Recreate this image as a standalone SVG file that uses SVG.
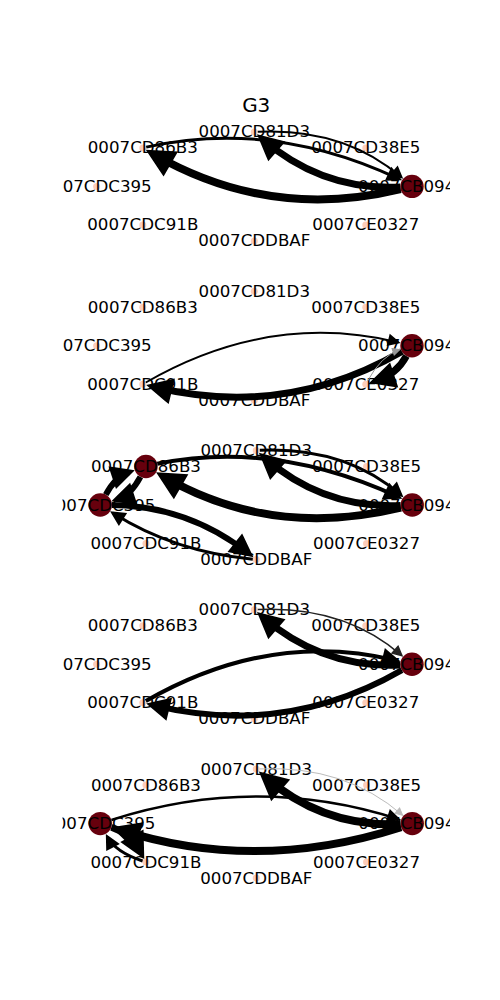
<svg xmlns="http://www.w3.org/2000/svg" width="500" height="1000" viewBox="0 0 500 1000">
<defs>
<style>
text { font-family: "DejaVu Sans", "Liberation Sans", sans-serif; font-size: 16.67px; fill: #000; text-anchor: middle; }
text.st { text-anchor: start; }
text.title { font-size: 20px; }
.lo { fill: #fdcdb9; }
.hi { fill: #67000d; }
.e { fill: none; stroke-linecap: butt; stroke: #000; }
.w8 { stroke-width: 8; marker-end: url(#a8); }
.w7 { stroke-width: 7; marker-end: url(#a7); }
.w6 { stroke-width: 6; marker-end: url(#a6); }
.w4 { stroke-width: 4; marker-end: url(#a4); }
.w3 { stroke-width: 3; marker-end: url(#a3); }
.w25 { stroke-width: 2.5; marker-end: url(#a25); }
.w2 { stroke-width: 2; marker-end: url(#a2); }
.d15 { stroke-width: 1.5; stroke: #222; marker-end: url(#ad); }
.g1 { stroke-width: 1; stroke: #999; marker-end: url(#ag1); }
.g2 { stroke-width: 1; stroke: #bbb; marker-end: url(#ag2); }
.head { stroke-linejoin: miter; stroke-miterlimit: 10; }
</style>
<marker id="a8" markerUnits="userSpaceOnUse" orient="auto" markerWidth="1" markerHeight="1" refX="0" refY="0" overflow="visible"><path class="head" d="M-16,-8 L0,0 L-16,8 Z" fill="#000" stroke="#000" stroke-width="8"/></marker>
<marker id="a7" markerUnits="userSpaceOnUse" orient="auto" markerWidth="1" markerHeight="1" refX="0" refY="0" overflow="visible"><path class="head" d="M-15,-7.5 L0,0 L-15,7.5 Z" fill="#000" stroke="#000" stroke-width="7"/></marker>
<marker id="a6" markerUnits="userSpaceOnUse" orient="auto" markerWidth="1" markerHeight="1" refX="0" refY="0" overflow="visible"><path class="head" d="M-14,-7 L0,0 L-14,7 Z" fill="#000" stroke="#000" stroke-width="6"/></marker>
<marker id="a4" markerUnits="userSpaceOnUse" orient="auto" markerWidth="1" markerHeight="1" refX="0" refY="0" overflow="visible"><path class="head" d="M-12,-6 L0,0 L-12,6 Z" fill="#000" stroke="#000" stroke-width="4"/></marker>
<marker id="a3" markerUnits="userSpaceOnUse" orient="auto" markerWidth="1" markerHeight="1" refX="0" refY="0" overflow="visible"><path class="head" d="M-10.5,-5.25 L0,0 L-10.5,5.25 Z" fill="#000" stroke="#000" stroke-width="3"/></marker>
<marker id="a25" markerUnits="userSpaceOnUse" orient="auto" markerWidth="1" markerHeight="1" refX="0" refY="0" overflow="visible"><path class="head" d="M-10,-5 L0,0 L-10,5 Z" fill="#000" stroke="#000" stroke-width="2.5"/></marker>
<marker id="a2" markerUnits="userSpaceOnUse" orient="auto" markerWidth="1" markerHeight="1" refX="0" refY="0" overflow="visible"><path class="head" d="M-9.5,-4.75 L0,0 L-9.5,4.75 Z" fill="#000" stroke="#000" stroke-width="2"/></marker>
<marker id="ad" markerUnits="userSpaceOnUse" orient="auto" markerWidth="1" markerHeight="1" refX="0" refY="0" overflow="visible"><path class="head" d="M-9,-4.5 L0,0 L-9,4.5 Z" fill="#222" stroke="#222" stroke-width="1.5"/></marker>
<marker id="ag1" markerUnits="userSpaceOnUse" orient="auto" markerWidth="1" markerHeight="1" refX="0" refY="0" overflow="visible"><path class="head" d="M-7,-3.5 L0,0 L-7,3.5 Z" fill="#999" stroke="#999" stroke-width="1"/></marker>
<marker id="ag2" markerUnits="userSpaceOnUse" orient="auto" markerWidth="1" markerHeight="1" refX="0" refY="0" overflow="visible"><path class="head" d="M-7,-3.5 L0,0 L-7,3.5 Z" fill="#bbb" stroke="#bbb" stroke-width="1"/></marker>
<clipPath id="c1"><rect x="62.5" y="120" width="387.5" height="132.8"/></clipPath>
<clipPath id="c2"><rect x="62.5" y="279.3" width="387.5" height="132.8"/></clipPath>
<clipPath id="c3"><rect x="62.5" y="438.6" width="387.5" height="132.8"/></clipPath>
<clipPath id="c4"><rect x="62.5" y="597.9" width="387.5" height="132.8"/></clipPath>
<clipPath id="c5"><rect x="62.5" y="757.2" width="387.5" height="132.8"/></clipPath>
</defs>
<rect x="0" y="0" width="500" height="1000" fill="#fff"/>
<text class="title" x="256.25" y="111.7">G3</text>

<g id="panel1" clip-path="url(#c1)">
<g id="p1-nodes">
<g id="p1-0007CB094"><circle class="hi" cx="412" cy="186.4" r="11.7"/><text class="st" x="358.05" y="191.9">0007CB094</text></g>
<g id="p1-0007CD38E5"><circle class="lo" cx="365.8" cy="147.9" r="3.5"/><text x="365.8" y="153.4">0007CD38E5</text></g>
<g id="p1-0007CD81D3"><circle class="lo" cx="254.3" cy="131.9" r="3.5"/><text x="254.3" y="137.4">0007CD81D3</text></g>
<g id="p1-0007CD86B3"><circle class="lo" cx="142.8" cy="147.9" r="3.5"/><text x="142.8" y="153.4">0007CD86B3</text></g>
<g id="p1-0007CDC395"><circle class="lo" cx="96.6" cy="186.4" r="3.5"/><text x="96.6" y="191.9">0007CDC395</text></g>
<g id="p1-0007CDC91B"><circle class="lo" cx="142.8" cy="224.9" r="3.5"/><text x="142.8" y="230.4">0007CDC91B</text></g>
<g id="p1-0007CDDBAF"><circle class="lo" cx="254.3" cy="240.9" r="3.5"/><text x="254.3" y="246.4">0007CDDBAF</text></g>
<g id="p1-0007CE0327"><circle class="lo" cx="365.8" cy="224.9" r="3.5"/><text x="365.8" y="230.4">0007CE0327</text></g>
</g>
<g id="p1-edges">
<path class="e w8" d="M400.6,189.2 Q269.7,221.0 153.5,154.1"/>
<path class="e w7" d="M400.3,187.0 Q322.3,190.7 262.9,139.3"/>
<path class="e w3" d="M146.2,147.1 Q272,119 399.0,178.9"/>
<path class="e w2" d="M257.8,131.7 Q344.1,127.6 401.5,177.3"/>
</g>
</g>

<g id="panel2" clip-path="url(#c2)">
<g id="p2-nodes">
<g id="p2-0007CB094"><circle class="hi" cx="412" cy="345.7" r="11.7"/><text class="st" x="358.05" y="351.2">0007CB094</text></g>
<g id="p2-0007CD38E5"><circle class="lo" cx="365.8" cy="307.2" r="3.5"/><text x="365.8" y="312.7">0007CD38E5</text></g>
<g id="p2-0007CD81D3"><circle class="lo" cx="254.3" cy="291.2" r="3.5"/><text x="254.3" y="296.7">0007CD81D3</text></g>
<g id="p2-0007CD86B3"><circle class="lo" cx="142.8" cy="307.2" r="3.5"/><text x="142.8" y="312.7">0007CD86B3</text></g>
<g id="p2-0007CDC395"><circle class="lo" cx="96.6" cy="345.7" r="3.5"/><text x="96.6" y="351.2">0007CDC395</text></g>
<g id="p2-0007CDC91B"><circle class="lo" cx="142.8" cy="384.2" r="3.5"/><text x="142.8" y="389.7">0007CDC91B</text></g>
<g id="p2-0007CDDBAF"><circle class="lo" cx="254.3" cy="400.2" r="3.5"/><text x="254.3" y="405.7">0007CDDBAF</text></g>
<g id="p2-0007CE0327"><circle class="lo" cx="365.8" cy="384.2" r="3.5"/><text x="365.8" y="389.7">0007CE0327</text></g>
</g>
<g id="p2-edges">
<path class="e w7" d="M401.9,351.5 Q285.1,418.8 153.8,386.9"/>
<path class="e w2" d="M145.8,382.5 Q269.7,311.1 398.4,342.4"/>
<path class="e w7" d="M406.4,356.0 Q396.6,374.2 376.6,380.7"/>
<path class="e g1" d="M367.5,381.1 Q381.2,355.7 399.8,349.7"/>
</g>
</g>

<g id="panel3" clip-path="url(#c3)">
<g id="p3-nodes">
<g id="p3-0007CB094"><circle class="hi" cx="412.25" cy="505" r="11.7"/><text class="st" x="358.3" y="510.5">0007CB094</text></g>
<g id="p3-0007CD38E5"><circle class="lo" cx="366.55" cy="466.5" r="3.5"/><text x="366.55" y="472">0007CD38E5</text></g>
<g id="p3-0007CD81D3"><circle class="lo" cx="256.25" cy="450.5" r="3.5"/><text x="256.25" y="456">0007CD81D3</text></g>
<g id="p3-0007CD86B3"><circle class="hi" cx="145.95" cy="466.5" r="11.7"/><text x="145.95" y="472">0007CD86B3</text></g>
<g id="p3-0007CDC395"><circle class="hi" cx="100.25" cy="505" r="11.7"/><text x="100.25" y="510.5">0007CDC395</text></g>
<g id="p3-0007CDC91B"><circle class="lo" cx="145.95" cy="543.5" r="3.5"/><text x="145.95" y="549">0007CDC91B</text></g>
<g id="p3-0007CDDBAF"><circle class="lo" cx="256.25" cy="559.5" r="3.5"/><text x="256.25" y="565">0007CDDBAF</text></g>
<g id="p3-0007CE0327"><circle class="lo" cx="366.55" cy="543.5" r="3.5"/><text x="366.55" y="549">0007CE0327</text></g>
</g>
<g id="p3-edges">
<path class="e w8" d="M400.9,507.7 Q271.4,539.0 163.8,476.8"/>
<path class="e w7" d="M400.6,505.5 Q323.4,509.0 264.8,457.9"/>
<path class="e w4" d="M157.3,463.8 Q275,440 398.2,496.9"/>
<path class="e w3" d="M259.8,450.3 Q345.2,446.6 400.9,495.1"/>
<path class="e w6" d="M112.0,505.1 Q188,506 248.2,553.2"/>
<path class="e w3" d="M252.8,559.2 Q174,552 112.9,513.1"/>
<path class="e w6" d="M105.8,494.7 Q115.4,476.6 128.4,472.3"/>
<path class="e w6" d="M140.4,476.8 Q130.8,494.9 117.7,499.2"/>
</g>
</g>

<g id="panel4" clip-path="url(#c4)">
<g id="p4-nodes">
<g id="p4-0007CB094"><circle class="hi" cx="412" cy="664.3" r="11.7"/><text class="st" x="358.05" y="669.8">0007CB094</text></g>
<g id="p4-0007CD38E5"><circle class="lo" cx="365.8" cy="625.8" r="3.5"/><text x="365.8" y="631.3">0007CD38E5</text></g>
<g id="p4-0007CD81D3"><circle class="lo" cx="254.3" cy="609.8" r="3.5"/><text x="254.3" y="615.3">0007CD81D3</text></g>
<g id="p4-0007CD86B3"><circle class="lo" cx="142.8" cy="625.8" r="3.5"/><text x="142.8" y="631.3">0007CD86B3</text></g>
<g id="p4-0007CDC395"><circle class="lo" cx="96.6" cy="664.3" r="3.5"/><text x="96.6" y="669.8">0007CDC395</text></g>
<g id="p4-0007CDC91B"><circle class="lo" cx="142.8" cy="702.8" r="3.5"/><text x="142.8" y="708.3">0007CDC91B</text></g>
<g id="p4-0007CDDBAF"><circle class="lo" cx="254.3" cy="718.8" r="3.5"/><text x="254.3" y="724.3">0007CDDBAF</text></g>
<g id="p4-0007CE0327"><circle class="lo" cx="365.8" cy="702.8" r="3.5"/><text x="365.8" y="708.3">0007CE0327</text></g>
</g>
<g id="p4-edges">
<path class="e w7" d="M400.3,664.9 Q322.3,668.6 262.9,617.2"/>
<path class="e d15" d="M257.8,609.6 Q344.1,605.5 401.9,655.6"/>
<path class="e w4" d="M145.8,701.1 Q269.7,629.7 396.3,660.4"/>
<path class="e w6" d="M401.9,670.1 Q285.1,737.4 152.7,705.2"/>
</g>
</g>

<g id="panel5" clip-path="url(#c5)">
<g id="p5-nodes">
<g id="p5-0007CB094"><circle class="hi" cx="412.25" cy="823.6" r="11.7"/><text class="st" x="358.3" y="829.1">0007CB094</text></g>
<g id="p5-0007CD38E5"><circle class="lo" cx="366.55" cy="785.1" r="3.5"/><text x="366.55" y="790.6">0007CD38E5</text></g>
<g id="p5-0007CD81D3"><circle class="lo" cx="256.25" cy="769.1" r="3.5"/><text x="256.25" y="774.6">0007CD81D3</text></g>
<g id="p5-0007CD86B3"><circle class="lo" cx="145.95" cy="785.1" r="3.5"/><text x="145.95" y="790.6">0007CD86B3</text></g>
<g id="p5-0007CDC395"><circle class="hi" cx="100.25" cy="823.6" r="11.7"/><text x="100.25" y="829.1">0007CDC395</text></g>
<g id="p5-0007CDC91B"><circle class="lo" cx="145.95" cy="862.1" r="3.5"/><text x="145.95" y="867.6">0007CDC91B</text></g>
<g id="p5-0007CDDBAF"><circle class="lo" cx="256.25" cy="878.1" r="3.5"/><text x="256.25" y="883.6">0007CDDBAF</text></g>
<g id="p5-0007CE0327"><circle class="lo" cx="366.55" cy="862.1" r="3.5"/><text x="366.55" y="867.6">0007CE0327</text></g>
</g>
<g id="p5-edges">
<path class="e w8" d="M400.6,824.1 Q323.4,827.6 265.6,777.3"/>
<path class="e g2" d="M259.8,768.9 Q345.2,765.2 402.6,815.2"/>
<path class="e w25" d="M111.4,820.0 Q256.3,773.6 398.4,819.2"/>
<path class="e w8" d="M401.1,827.2 Q256.3,873.6 119.9,829.9"/>
<path class="e w7" d="M111.4,827.3 Q130.8,833.7 140.6,852.1"/>
<path class="e w3" d="M142.6,861.0 Q115.4,852.0 107.4,836.9"/>
</g>
</g>
</svg>
